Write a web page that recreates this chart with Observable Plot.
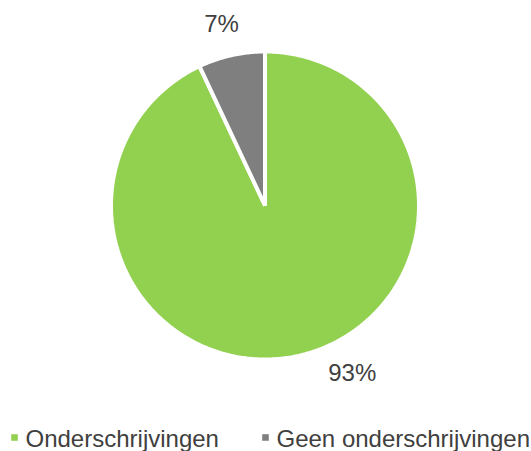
<!DOCTYPE html>
<html>
<head>
<meta charset="utf-8">
<script src="https://cdn.jsdelivr.net/npm/d3@7"></script>
<script src="https://cdn.jsdelivr.net/npm/@observablehq/plot@0.6"></script>
<style>
  html, body { margin: 0; padding: 0; background: #fff; }
  svg { display: block; }
</style>
</head>
<body>
<div id="chart"></div>
<script>
// Data
const categories = ["Onderschrijvingen", "Geen onderschrijvingen"];
const values = [93, 7];
const labels = ["93%", "7%"];
const colors = ["#92D050", "#7F7F7F"];

// Layout (pixels)
const W = 531, H = 451;
const cx = 264.5, cy = 205, R = 154;
const labelAngleDeg = [152.5, 346.5];
const labelRadius = [189, 186];
const legendX = [14, 265];
const legendY = 437;
const font = "Liberation Sans, Arial, sans-serif";
const textColor = "#404040";

const arcs = d3.pie().sort(null).value(d => d)(values);

const slicePts = [];
arcs.forEach((a, i) => {
  const n = Math.max(2, Math.ceil((a.endAngle - a.startAngle) / 0.01));
  slicePts.push({name: categories[i], x: cx, y: cy});
  for (let k = 0; k <= n; k++) {
    const t = a.startAngle + (a.endAngle - a.startAngle) * k / n;
    slicePts.push({name: categories[i], x: cx + R * Math.sin(t), y: cy - R * Math.cos(t)});
  }
});

const labelData = labels.map((l, i) => {
  const t = labelAngleDeg[i] * Math.PI / 180;
  return {label: l, x: cx + labelRadius[i] * Math.sin(t), y: cy - labelRadius[i] * Math.cos(t)};
});

const legendData = categories.map((c, i) => ({name: c, x: legendX[i], y: legendY, color: colors[i]}));

const chart = Plot.plot({
  width: W,
  height: H,
  margin: 0,
  x: {domain: [0, W], range: [0, W], axis: null},
  y: {domain: [0, H], range: [0, H], axis: null},
  color: {domain: categories, range: colors},
  style: {fontFamily: font, background: "#fff"},
  marks: [
    Plot.line(slicePts, {x: "x", y: "y", z: "name", fill: "name", stroke: "white", strokeWidth: 4, curve: "linear-closed", strokeLinejoin: "miter"}),
    Plot.text(labelData, {x: "x", y: "y", text: "label", fontSize: 24, fill: textColor, textAnchor: "middle"}),
    Plot.dot(legendData, {x: "x", y: "y", symbol: "square", r: 3.7, fill: "color", stroke: null}),
    Plot.text(legendData, {x: d => d.x + 11, y: d => d.y + 1.5, text: "name", fontSize: 24, fill: textColor, textAnchor: "start"})
  ]
});

document.getElementById("chart").appendChild(chart);
</script>
</body>
</html>
